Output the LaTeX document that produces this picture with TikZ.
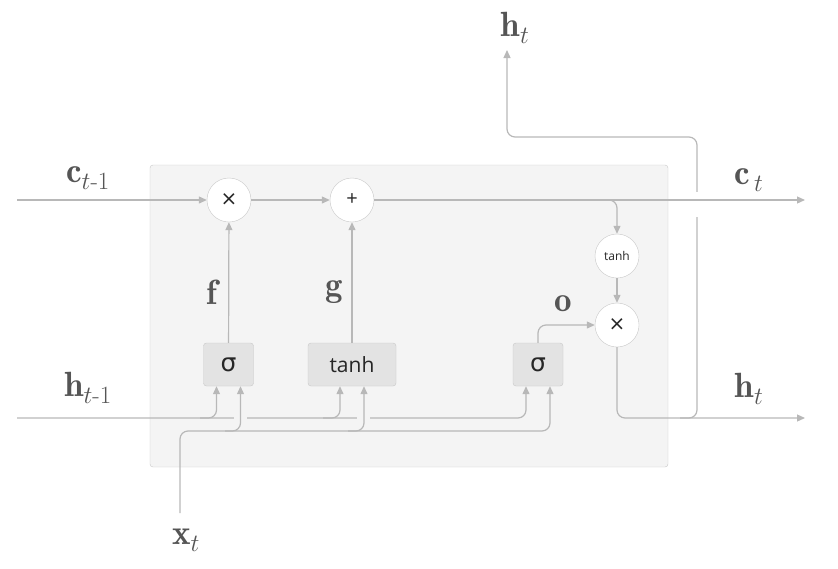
\documentclass[tikz,border=0pt]{standalone}
\usepackage{amsmath}
\usepackage{fontspec}
\newfontfamily\osans{Open Sans}
\newfontfamily\dsans{DejaVu Sans}
\usetikzlibrary{arrows.meta}
\definecolor{ln}{HTML}{B8B8B8}
\definecolor{bd}{HTML}{C8C8C8}
\definecolor{cellfill}{HTML}{F4F4F4}
\definecolor{gatefill}{HTML}{E3E3E3}
\definecolor{txt}{HTML}{555555}
\begin{document}
\begin{tikzpicture}[x=1pt,y=-1pt,
  line/.style={draw=ln, line width=1.2pt},
  arr/.style={line, -{Triangle[length=8pt,width=7pt]}},
  rc/.style={rounded corners=8pt},
  op/.style={circle, draw=bd, fill=white, minimum size=44pt, inner sep=0pt, text=black!85, font=\dsans\fontsize{20}{20}\selectfont},
  gate/.style={rounded corners=3pt, draw=bd, fill=gatefill, minimum height=43pt, inner sep=0pt, text=black!85, font=\osans\fontsize{21}{21}\selectfont},
  lab/.style={text=txt, inner sep=0pt, font=\fontsize{35}{40}\selectfont},
  gap/.style={draw=#1, line width=5pt}
]
\useasboundingbox (0,0) rectangle (838,568);
% cell
\node[draw=bd, fill=cellfill, rounded corners=3pt, minimum width=518pt, minimum height=302pt, inner sep=0pt] (cell) at (409,316) {};

% operators
\node[op] (m1) at (229,200) {×};
\node[op, font=\osans\fontsize{20}{20}\selectfont] (a1) at (352,200) {+};
\node[op, font=\osans\fontsize{12}{12}\selectfont] (th) at (617,256) {tanh};
\node[op] (m2) at (617,325) {×};

% gates
\node[gate, minimum width=50pt, font=\dsans\fontsize{25}{25}\selectfont] (s1) at (228.5,364.5) {σ};
\node[gate, minimum width=88pt] (tg) at (352,364.5) {tanh};
\node[gate, minimum width=50pt, font=\dsans\fontsize{25}{25}\selectfont] (s2) at (538,364.5) {σ};

% free ends
\coordinate (cin) at (17,200);
\coordinate (cout) at (805,200);
\coordinate (hin) at (17,418);
\coordinate (hout) at (805,418);
\coordinate (htop) at (507,50);
\coordinate (xin) at (180,513);
\coordinate (cbr) at (590,200);
\coordinate (hbr) at (680,418);
\coordinate (hb1) at (200,418);
\coordinate (hb2) at (323,418);
\coordinate (xb1) at (225,431);
\coordinate (xb2) at (348,431);

% h output branch upward (drawn first, gap at c line)
\draw[arr, rc] (hbr) -| (697,137) -| (htop);
\draw[gap=white] (697,192) -- (697,217);

% c line
\draw[arr] (cin) -- (m1);
\draw[arr] (m1) -- (a1);
\draw[arr] (a1) -- (cout);
\draw[arr, rc] (cbr) -| (th.north);
\draw[arr] (th) -- (m2);
\draw[arr, rc] (s2.north) |- (m2.west);
\draw[arr, rc] (m2.south) |- (hout);

% gate outputs
\draw[arr] (s1) -- (m1);
\draw[arr] (tg) -- (a1);

% h_{t-1} line
\draw[arr, rc] (hin) -| ([xshift=-12pt]s2.south);
\draw[arr, rc] (hb1) -| ([xshift=-12pt]s1.south);
\draw[arr, rc] (hb2) -| ([xshift=-12pt]tg.south);
\draw[gap=cellfill] (234,418) -- (247,418);
\draw[gap=cellfill] (357,418) -- (370,418);

% x_t line
\draw[arr, rc] (xin) |- (300,431) -| ([xshift=12pt]s2.south);
\draw[arr, rc] (xb1) -| ([xshift=12pt]s1.south);
\draw[arr, rc] (xb2) -| ([xshift=12pt]tg.south);

% labels
\node[lab] (lc0) at (88,178) {$\mathbf{c}_{t\text{-}1}$};
\node[lab] (lh0) at (88,388) {$\mathbf{h}_{t\text{-}1}$};
\node[lab] (lf) at (212,292) {$\mathbf{f}$};
\node[lab] (lg) at (334,292) {$\mathbf{g}$};
\node[lab] (lo) at (563,304) {$\mathbf{o}$};
\node[lab] (lct) at (749,180) {$\mathbf{c}_{\,t}$};
\node[lab] (lht) at (749,389) {$\mathbf{h}_{t}$};
\node[lab] (lhtop) at (515,28) {$\mathbf{h}_{t}$};
\node[lab] (lx) at (186,540) {$\mathbf{x}_{t}$};
\end{tikzpicture}
\end{document}
